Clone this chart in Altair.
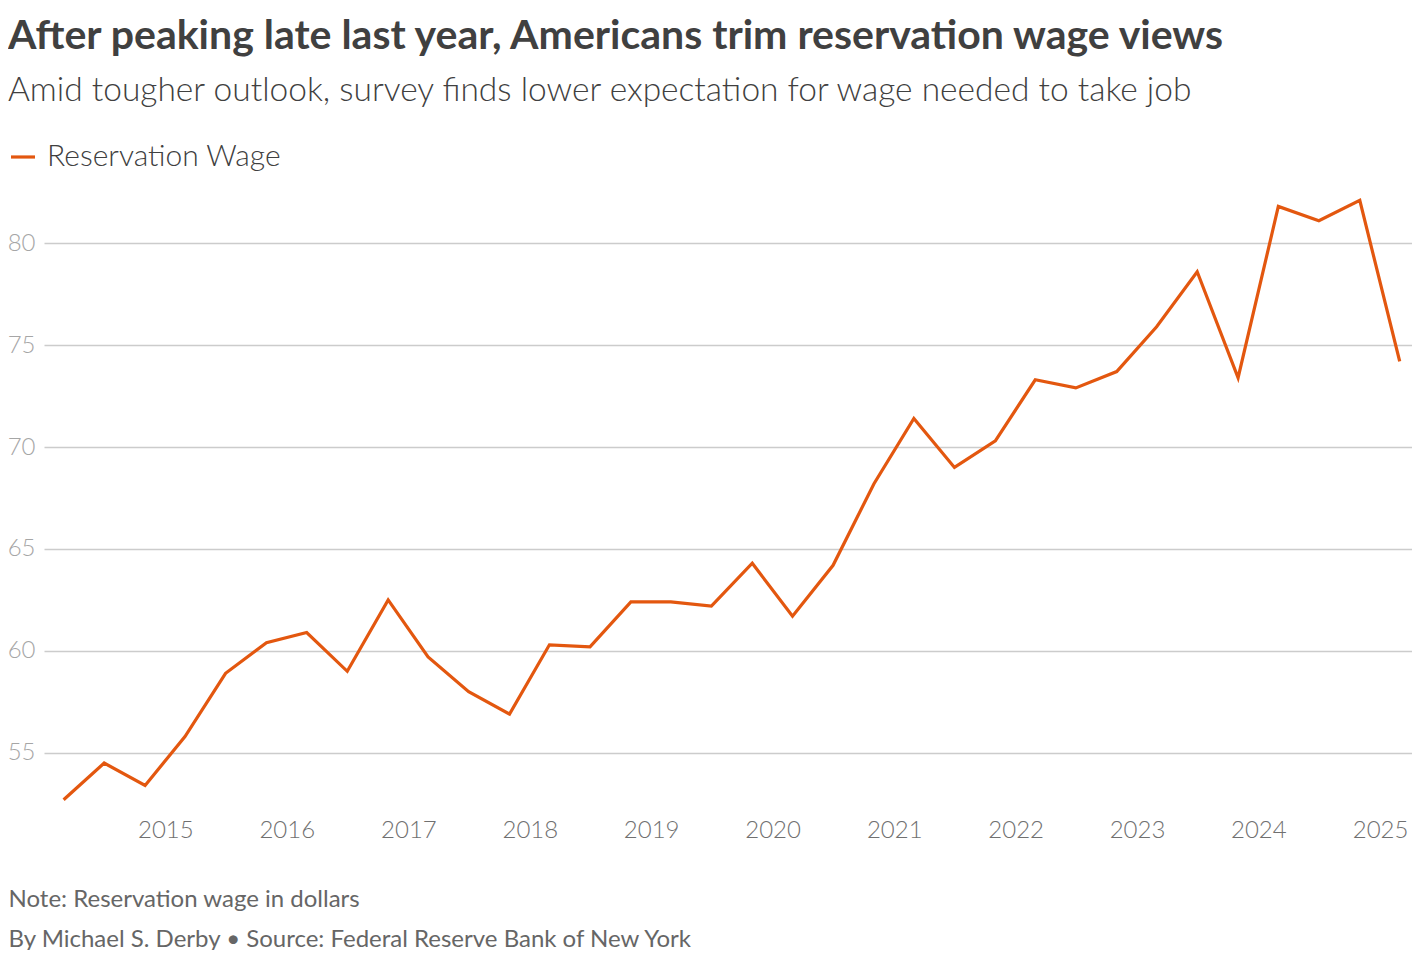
import altair as alt
import pandas as pd

# Survey dates (every four months: March, July, November)
dates = [
    "2014-03-01", "2014-07-01", "2014-11-01",
    "2015-03-01", "2015-07-01", "2015-11-01",
    "2016-03-01", "2016-07-01", "2016-11-01",
    "2017-03-01", "2017-07-01", "2017-11-01",
    "2018-03-01", "2018-07-01", "2018-11-01",
    "2019-03-01", "2019-07-01", "2019-11-01",
    "2020-03-01", "2020-07-01", "2020-11-01",
    "2021-03-01", "2021-07-01", "2021-11-01",
    "2022-03-01", "2022-07-01", "2022-11-01",
    "2023-03-01", "2023-07-01", "2023-11-01",
    "2024-03-01", "2024-07-01", "2024-11-01",
    "2025-03-01",
]
wages = [
    52.7, 54.5, 53.4,
    55.8, 58.9, 60.4,
    60.9, 59.0, 62.5,
    59.7, 58.0, 56.9,
    60.3, 60.2, 62.4,
    62.4, 62.2, 64.3,
    61.7, 64.2, 68.2,
    71.4, 69.0, 70.3,
    73.3, 72.9, 73.7,
    75.9, 78.6, 73.4,
    81.8, 81.1, 82.1,
    74.2,
]
series_name = "Reservation Wage"
year_ticks = list(range(2015, 2026))
y_ticks = [55, 60, 65, 70, 75, 80]

title_text = "After peaking late last year, Americans trim reservation wage views"
subtitle_text = "Amid tougher outlook, survey finds lower expectation for wage needed to take job"
footer_lines = [
    "Note: Reservation wage in dollars",
    "By Michael S. Derby \u2022 Source: Federal Reserve Bank of New York",
]

df = pd.DataFrame({"date": dates, "wage": wages, "series": [series_name] * len(dates)})

FONT = "Lato"
ORANGE = "#e3570f"

chart = (
    alt.Chart(df)
    .mark_line(strokeWidth=3.2, color=ORANGE)
    .encode(
        x=alt.X(
            "date:T",
            scale=alt.Scale(
                type="utc",
                domain=[
                    alt.DateTime(year=2014, month=1, date=1, utc=True),
                    alt.DateTime(year=2025, month=4, date=7, utc=True),
                ],
            ),
            axis=alt.Axis(
                values=[alt.DateTime(year=y, month=1, date=1, utc=True) for y in year_ticks],
                format="%Y",
                formatType="utc",
                grid=False,
                domain=False,
                ticks=False,
                labelFont=FONT,
                labelFontSize=24,
                labelFontWeight=300,
                labelColor="#707070",
                labelPadding=4,
                title=footer_lines,
                titleFont=FONT,
                titleFontSize=24,
                titleFontWeight="normal",
                titleColor="#666666",
                titleAlign="left",
                titleAnchor="start",
                titleBaseline="alphabetic",
                titleLineHeight=40,
                titleX=-36,
                titleY=92,
            ),
        ),
        y=alt.Y(
            "wage:Q",
            scale=alt.Scale(domain=[52, 83], nice=False, zero=False),
            axis=alt.Axis(
                values=y_ticks,
                title=None,
                domain=False,
                ticks=False,
                grid=True,
                gridColor="#cccccc",
                gridWidth=1.5,
                labelFont=FONT,
                labelFontSize=24,
                labelFontWeight=300,
                labelColor="#a6a6a6",
                labelPadding=9,
            ),
        ),
        stroke=alt.Stroke(
            "series:N",
            scale=alt.Scale(domain=[series_name], range=[ORANGE]),
            legend=alt.Legend(
                title=None,
                orient="none",
                legendX=-36,
                legendY=-40,
                symbolType="stroke",
                symbolSize=576,
                symbolStrokeWidth=3.2,
                labelFont=FONT,
                labelFontSize=30,
                labelFontWeight=300,
                labelColor="#404040",
                labelOffset=9,
                labelLimit=0,
            ),
        ),
    )
    .properties(
        width=1368,
        height=632,
        background="white",
        autosize=alt.AutoSizeParams(type="none"),
        padding={"left": 36, "top": 174, "right": 0, "bottom": 136},
        title=alt.TitleParams(
            text=title_text,
            subtitle=subtitle_text,
            anchor="start",
            frame="group",
            orient="top",
            dx=-36,
            offset=34,
            font=FONT,
            fontSize=41,
            fontWeight="bold",
            color="#404040",
            subtitleFont=FONT,
            subtitleFontSize=33.5,
            subtitleFontWeight=300,
            subtitleColor="#404040",
            subtitlePadding=17,
        ),
    )
    .configure_view(strokeWidth=0, stroke="transparent")
)

chart.save("out.html", embed_options={"renderer": "svg", "actions": False})
